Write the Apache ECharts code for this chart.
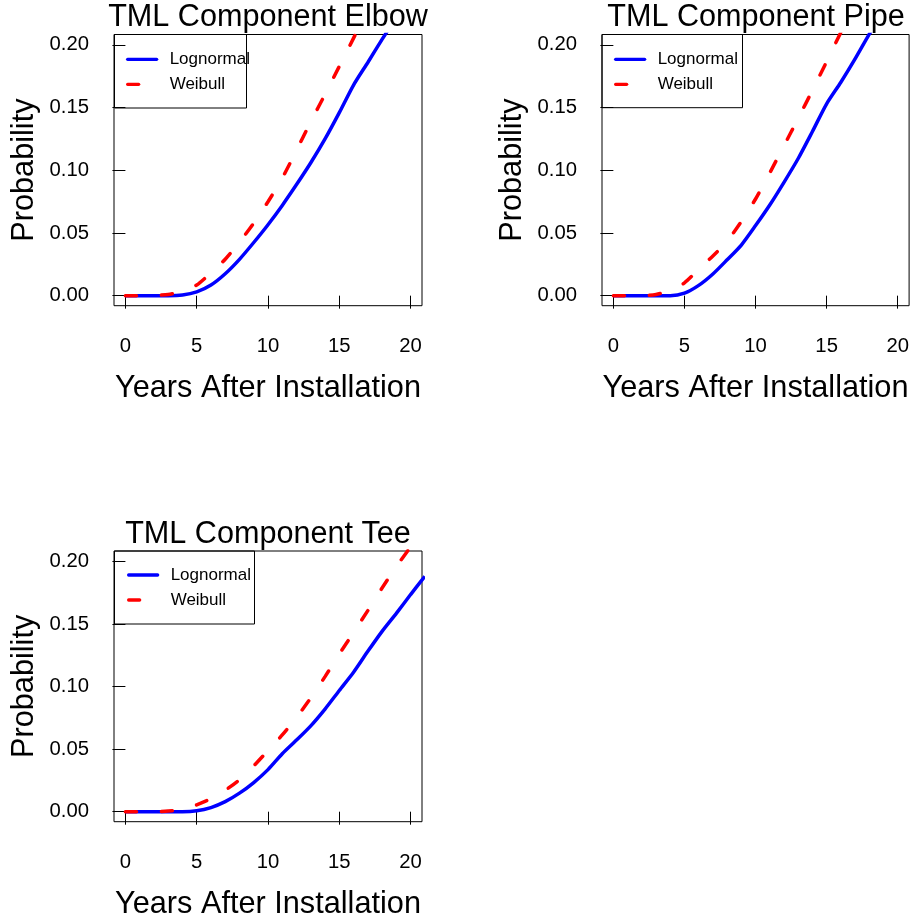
<!DOCTYPE html>
<html>
<head>
<meta charset="utf-8">
<script src="https://cdn.jsdelivr.net/npm/echarts@6/dist/echarts.min.js"></script>
<style>
html,body{margin:0;padding:0;background:#fff;}
#chart{width:912px;height:922px;}
</style>
</head>
<body>
<div id="chart"></div>
<script>
// ---- data ----
var years = [0,1,2,3,4,5,6,7,8,9,10,11,12,13,14,15,16,17,18,19,20,21];
var xTicks = [0,5,10,15,20];
var yTicks = [0,0.05,0.10,0.15,0.20];
var seriesNames = ['Lognormal','Weibull'];
var panelTitles = ['TML Component Elbow','TML Component Pipe','TML Component Tee'];

var elbowLognormal = [0,0,0,0,0.0005,0.003,0.0085,0.0175,0.029,0.0424,0.0566,0.072,0.0886,0.106,0.125,0.146,0.168,0.186,0.2044,0.222,0.240,0.258];
var elbowWeibull   = [0,0,0.0002,0.001,0.0035,0.0085,0.0183,0.0291,0.0427,0.0579,0.0749,0.0938,0.116,0.1388,0.1606,0.1829,0.2054,0.228,0.25,0.271,0.292,0.313];
var pipeLognormal  = [0,0,0,0,0,0.002,0.0082,0.0173,0.0286,0.0404,0.0559,0.0723,0.0904,0.1094,0.1309,0.153,0.1702,0.1888,0.2086,0.227,0.246,0.265];
var pipeWeibull    = [0,0,0,0.001,0.004,0.0102,0.021,0.0317,0.0434,0.0592,0.0771,0.0979,0.1196,0.1414,0.1638,0.1867,0.21,0.233,0.255,0.277,0.298,0.318];
var teeLognormal   = [0,0,0,0,0,0.0007,0.0033,0.008,0.0148,0.0233,0.0336,0.0463,0.0572,0.0686,0.082,0.0968,0.1114,0.1281,0.1441,0.1585,0.1735,0.188];
var teeWeibull     = [0,0,0,0.0005,0.0017,0.0055,0.0104,0.0171,0.0256,0.0366,0.0489,0.0613,0.0753,0.0909,0.1079,0.126,0.1432,0.1607,0.1787,0.1958,0.2117,0.228];

var panelData = [
  [elbowLognormal, elbowWeibull],
  [pipeLognormal, pipeWeibull],
  [teeLognormal, teeWeibull]
];

// ---- layout ----
var FONT = "'Liberation Sans', Arial, Helvetica, sans-serif";
var grids = [
  {left:114, top:34.5, width:308, height:271.2},
  {left:602, top:34.5, width:308, height:271.2},
  {left:114, top:551, width:308, height:270.7}
];
var legendBoxes = [
  {x:114.5, y:34.5, w:132, h:73.5, lineLeft:126, c1:59.3},
  {x:602, y:34.5, w:140.5, h:73.2, lineLeft:614, c1:59.3},
  {x:114.5, y:551, w:140, h:73, lineLeft:127, c1:575}
];

function pairs(vals){
  var out = [];
  for (var i=0;i<years.length;i++) out.push([years[i], vals[i]]);
  return out;
}

var option = {
  animation:false,
  backgroundColor:'#fff',
  title:[], grid:[], xAxis:[], yAxis:[], series:[], legend:[], graphic:[]
};

panelTitles.forEach(function(t, i){
  var g = grids[i];
  option.title.push({
    text:t, left:g.left + g.width/2, top:g.top - 32, textAlign:'center', padding:0,
    textStyle:{fontSize:30.6, fontWeight:'normal', color:'#000', fontFamily:FONT}
  });
  option.grid.push({left:g.left, top:g.top, width:g.width, height:g.height,
    show:true, borderColor:'#000', borderWidth:1, backgroundColor:'transparent', containLabel:false});
  option.xAxis.push({
    type:'value', gridIndex:i, min:-0.8, max:20.8,
    name:'Years After Installation', nameLocation:'middle', nameGap:67,
    nameTextStyle:{fontSize:30.7, color:'#000', fontFamily:FONT},
    axisLine:{show:false},
    axisTick:{show:true, length:13, inside:false, customValues:xTicks, lineStyle:{color:'#000', width:1}},
    axisLabel:{show:true, margin:30.5, fontSize:20.3, color:'#000', fontFamily:FONT, customValues:xTicks,
      formatter:function(v){return String(v);}},
    splitLine:{show:false}
  });
  option.yAxis.push({
    type:'value', gridIndex:i, min:-0.008, max:0.2083,
    name:'Probability', nameLocation:'middle', nameGap:74,
    nameTextStyle:{fontSize:30.7, color:'#000', fontFamily:FONT},
    axisLine:{show:false},
    axisTick:{show:true, length:13, customValues:yTicks, lineStyle:{color:'#000', width:1}},
    axisLabel:{show:true, margin:25, fontSize:20.3, color:'#000', fontFamily:FONT, customValues:yTicks,
      formatter:function(v){return v.toFixed(2);}},
    splitLine:{show:false}
  });
  var d = panelData[i];
  option.series.push({
    name:seriesNames[0], type:'line', xAxisIndex:i, yAxisIndex:i, data:pairs(d[0]),
    showSymbol:false, symbol:'none', smooth:0.25, clip:true,
    lineStyle:{color:'#0000FF', width:3.5}, itemStyle:{color:'#0000FF'}, z:2
  });
  option.series.push({
    name:seriesNames[1], type:'line', xAxisIndex:i, yAxisIndex:i, data:pairs(d[1]),
    showSymbol:false, symbol:'none', smooth:0.25, clip:true,
    lineStyle:{color:'#FF0000', width:3.5, type:[11,25], cap:'round'}, itemStyle:{color:'#FF0000'}, z:3
  });
  var lb = legendBoxes[i];
  option.legend.push({
    orient:'vertical', left:lb.lineLeft, top:lb.c1 - 10, padding:0,
    itemWidth:29, itemHeight:12, itemGap:5, selectedMode:false,
    data:seriesNames,
    itemStyle:{opacity:0},
    lineStyle:{width:3.3, cap:'round'},
    textStyle:{fontSize:17, color:'#000', fontFamily:FONT, lineHeight:20, padding:[0,0,0,8]}
  });
  option.graphic.push({
    type:'rect', shape:{x:lb.x, y:lb.y, width:lb.w, height:lb.h},
    style:{fill:'none', stroke:'#000', lineWidth:1}, silent:true, z:10
  });
});

var chart = echarts.init(document.getElementById('chart'), null, {renderer:'canvas'});
chart.setOption(option);
</script>
</body>
</html>
